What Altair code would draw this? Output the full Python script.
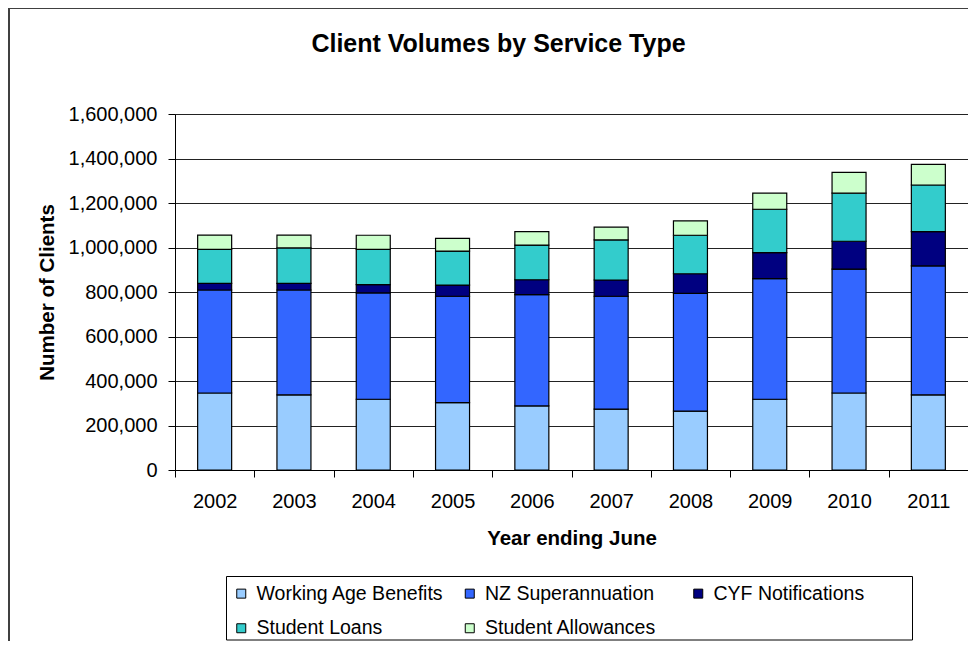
import altair as alt
import pandas as pd

years = ["2002", "2003", "2004", "2005", "2006", "2007", "2008", "2009", "2010", "2011"]
series = ["Working Age Benefits", "NZ Superannuation", "CYF Notifications",
          "Student Loans", "Student Allowances"]
colors = ["#99CCFF", "#3366FF", "#000080", "#33CCCC", "#CCFFCC"]

working_age = [346000, 338000, 318000, 303000, 288000, 274000, 265000, 318000, 346000, 338000]
nz_super = [463000, 471000, 478000, 478000, 500000, 507000, 529000, 542000, 557000, 579000]
cyf = [30000, 30000, 37000, 50000, 67000, 73000, 88000, 117000, 125000, 154000]
student_loans = [153000, 159000, 159000, 153000, 156000, 180000, 173000, 195000, 216000, 210000]
student_allow = [64000, 58000, 63000, 57000, 60000, 58000, 65000, 72000, 94000, 93000]

y_ticks = [0, 200000, 400000, 600000, 800000, 1000000, 1200000, 1400000, 1600000]

rows = []
for si, (name, vals) in enumerate(zip(series, [working_age, nz_super, cyf, student_loans, student_allow])):
    for yr, v in zip(years, vals):
        rows.append({"Year": yr, "Service": name, "Clients": v, "order": si})
df = pd.DataFrame(rows)

FONT = "Liberation Sans"
W, H = 793, 356

bars = alt.Chart(df).mark_bar(size=34, stroke="black", strokeWidth=1.2).encode(
    x=alt.X("Year:N", sort=years,
            scale=alt.Scale(paddingInner=0, paddingOuter=0),
            axis=alt.Axis(title="Year ending June", labelAngle=0, tickBand="extent",
                          tickSize=7, labelPadding=30, labelBaseline="alphabetic",
                          labelFontSize=20, titleFontSize=20.5, titleFontWeight="bold",
                          titleX=W / 2, titleY=74, titleBaseline="alphabetic",
                          titleAlign="center")),
    y=alt.Y("Clients:Q", stack="zero",
            scale=alt.Scale(domain=[0, 1600000], nice=False),
            axis=alt.Axis(title="Number of Clients", values=y_ticks, format=",d",
                          tickSize=7, labelPadding=11, grid=True, gridColor="#222",
                          gridWidth=1, labelFontSize=20, titleFontSize=20.5,
                          titleFontWeight="bold", titleX=-122, titleY=H / 2,
                          titleAngle=270, titleBaseline="alphabetic",
                          titleAlign="center")),
    color=alt.Color("Service:N", sort=series,
                    scale=alt.Scale(domain=series, range=colors),
                    legend=alt.Legend(title=None, orient="none", legendX=51, legendY=464,
                                      direction="horizontal", columns=3,
                                      symbolType="square", symbolSize=81,
                                      symbolStrokeColor="black", symbolStrokeWidth=1,
                                      symbolOpacity=1,
                                      labelFont=FONT, labelFontSize=19.5, labelColor="black",
                                      labelOffset=5.5, labelLimit=400,
                                      columnPadding=15.5, rowPadding=14, padding=5.5,
                                      gridAlign="all")),
    order=alt.Order("order:Q", sort="ascending"),
)

# decorative outer chart frame and legend box
frame = alt.Chart(pd.DataFrame({"f": [0]})).mark_rect(
    filled=False, stroke="#404040", strokeWidth=2
).encode(
    x=alt.value(-166), x2=alt.value(830), y=alt.value(-106), y2=alt.value(570)
)
legend_box = alt.Chart(pd.DataFrame({"f": [0]})).mark_rect(
    filled=False, stroke="black", strokeWidth=1
).encode(
    x=alt.value(51.5), x2=alt.value(737.5), y=alt.value(462.5), y2=alt.value(526)
)

chart = alt.layer(frame, legend_box, bars).properties(
    width=W, height=H,
    title=alt.TitleParams("Client Volumes by Service Type", font=FONT, fontSize=25,
                          fontWeight="bold", color="black", anchor="middle",
                          frame="group", offset=0, dx=-73, dy=70,
                          baseline="alphabetic"),
    autosize=alt.AutoSizeParams(type="none"),
    padding={"left": 167, "top": 106, "right": 0, "bottom": 171},
).configure_view(
    stroke="#808080", strokeWidth=1
).configure_axis(
    labelFont=FONT, titleFont=FONT, labelColor="black", titleColor="black",
    domainColor="#000", tickColor="#000", domainWidth=1
)

chart.save("out.html", embed_options={"renderer": "svg", "actions": False})
